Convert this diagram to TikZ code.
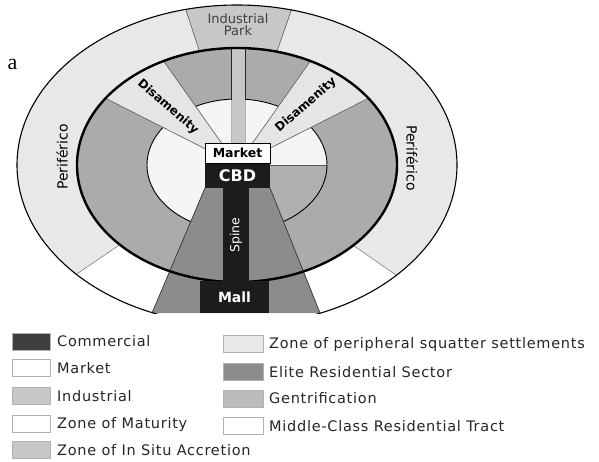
\documentclass[tikz,border=0pt]{standalone}
\usepackage{fontspec}
\setmainfont{DejaVu Sans}
\newfontfamily\serifa{Liberation Serif}
\newfontfamily\legfont[LetterSpace=5]{DejaVu Sans}
\newcommand\fsz[1]{\fontsize{#1}{#1}\selectfont}
\definecolor{peri}{gray}{0.91}
\definecolor{accr}{gray}{0.67}
\definecolor{elite}{gray}{0.55}
\definecolor{indus}{gray}{0.78}
\definecolor{gentr}{gray}{0.69}
\definecolor{disam}{gray}{0.90}
\definecolor{matur}{gray}{0.96}
\definecolor{comm}{gray}{0.11}
\tikzset{
  swatch/.style={draw=gray!60, line width=0.5pt, minimum width=38pt, minimum height=17pt, inner sep=0pt},
  legtext/.style={anchor=west, inner sep=0pt, font=\legfont\fsz{14.5}, text=black!85},
  radial/.style={gray!70!black, line width=0.6pt},
  lbl/.style={inner sep=0pt, font=\fsz{13}},
}
\begin{document}
\begin{tikzpicture}[x=1pt,y=-1pt]
\useasboundingbox (0,0) rectangle (599,461);
\coordinate (C) at (237,165);
% far points for radial edges
\coordinate (mcL) at (-7,331);
\coordinate (mcR) at (477,331);
\coordinate (ipL) at (175,-23);
\coordinate (ipR) at (303,-23);
\coordinate (dLlo) at (-19,35);
\coordinate (dLup) at (93,-39);
\coordinate (dRlo) at (493,35);
\coordinate (dRup) at (381,-39);

\begin{scope}
  \clip (0,-5) rectangle (599,313);
  \clip (C) ellipse (220pt and 160pt);
  \fill[peri] (C) ellipse (220pt and 160pt);
  % middle-class residential tract
  \fill[white] (C) -- (mcL) -- (-7,420) -- (481,420) -- (mcR) -- cycle;
  % industrial park
  \fill[indus] (C) -- (ipL) -- (ipR) -- cycle;
  \draw[gray, line width=0.6pt] (C) -- (mcL) (C) -- (mcR);
  \draw[radial] (C) -- (ipL) (C) -- (ipR);
  % zone of in situ accretion
  \fill[accr] (C) ellipse (160pt and 117pt);
  % zone of maturity
  \fill[matur] (C) ellipse (90pt and 66pt);
  % gentrification
  \begin{scope}
    \clip (C) ellipse (90pt and 66pt);
    \fill[gentr] (270,165) rectangle (340,240);
  \end{scope}
  \draw[gray!70!black, line width=0.6pt] (270,165) -- (327,165);
  \draw[line width=0.9pt] (C) ellipse (90pt and 66pt);
  % disamenity wedges
  \begin{scope}
    \clip (C) ellipse (160pt and 117pt);
    \fill[disam] (C) -- (dLlo) -- (dLup) -- cycle;
    \fill[disam] (C) -- (dRlo) -- (dRup) -- cycle;
    \draw[radial] (C) -- (dLlo) (C) -- (dLup) (C) -- (dRlo) (C) -- (dRup);
    % industrial strip
    \fill[indus] (231,40) rectangle (245,150);
    \draw[gray!30!black, line width=0.6pt] (231,40) -- (231,100) (245,40) -- (245,100);
    \draw[gray!60, line width=0.6pt] (231,100) -- (231,150) (245,100) -- (245,150);
  \end{scope}
  % elite residential sector
  \fill[elite] (205,188) -- (152,313) -- (320,313) -- (270,188) -- cycle;
  \draw[black!80, line width=0.7pt] (205,188) -- (152,313) (270,188) -- (320,313);
  % thick boundary
  \draw[line width=2.4pt] (C) ellipse (160pt and 117pt);
\end{scope}
\begin{scope}
  \clip (0,-5) rectangle (599,313.6);
  \draw[line width=1.1pt] (C) ellipse (220pt and 160pt);
\end{scope}

% commercial spine, mall, CBD, market
\node[fill=comm, rotate=90, minimum width=94pt, minimum height=26pt, inner sep=0pt,
      text=white, font=\fsz{12.5}] (spine) at (236,235) {Spine};
\node[fill=comm, minimum width=69pt, minimum height=32pt, inner sep=0pt,
      text=white, font=\bfseries\fsz{14}] (mall) at (234.5,297) {Mall};
\node[fill=comm, minimum width=65pt, minimum height=25pt, inner sep=0pt,
      text=white, font=\bfseries\fsz{16}] (cbd) at (237.5,175.5) {CBD};
\node[draw=black, line width=0.8pt, fill=white, minimum width=65pt, minimum height=20pt,
      inner sep=0pt, font=\bfseries\fsz{12.5}] (market) at (237.5,153) {Market};

% labels
\node[lbl, align=center, text=gray!50!black, font=\fsz{13}] (ipark) at (238,25) {Industrial\\[-1pt]Park};
\node[lbl, rotate=-41, font=\bfseries\fsz{12}] (disL) at (168,107) {Disamenity};
\node[lbl, rotate=41, font=\bfseries\fsz{12}] (disR) at (306,105) {Disamenity};
\node[lbl, rotate=90, font=\fsz{14}] (perL) at (62,157) {Periférico};
\node[lbl, rotate=-90, font=\fsz{14}] (perR) at (412,158) {Periférico};
\node[inner sep=0pt, font=\serifa\fsz{22}] (a) at (12.5,64) {a};

% legend
\node[swatch, fill=comm!85] (s1) at (31,341.5) {};
\node[swatch, fill=white] (s2) at (31,368) {};
\node[swatch, fill=indus] (s3) at (31,396) {};
\node[swatch, fill=white] (s4) at (31,424) {};
\node[swatch, fill=indus] (s5) at (31,450) {};
\node[legtext] (t1) at (57,341.5) {Commercial};
\node[legtext] (t2) at (57,368) {Market};
\node[legtext] (t3) at (57,396) {Industrial};
\node[legtext] (t4) at (57,424) {Zone of Maturity};
\node[legtext] (t5) at (57,450) {Zone of In Situ Accretion};
\node[swatch, minimum width=40pt, fill=peri] (s6) at (243,344) {};
\node[swatch, minimum width=40pt, fill=elite] (s7) at (243,372) {};
\node[swatch, minimum width=40pt, fill=gentr!85] (s8) at (243,398.5) {};
\node[swatch, minimum width=40pt, fill=white] (s9) at (243,426) {};
\node[legtext] (t6) at (269,344) {Zone of peripheral squatter settlements};
\node[legtext] (t7) at (269,372) {Elite Residential Sector};
\node[legtext] (t8) at (269,398.5) {Gentrification};
\node[legtext] (t9) at (269,426) {Middle-Class Residential Tract};
\end{tikzpicture}
\end{document}
